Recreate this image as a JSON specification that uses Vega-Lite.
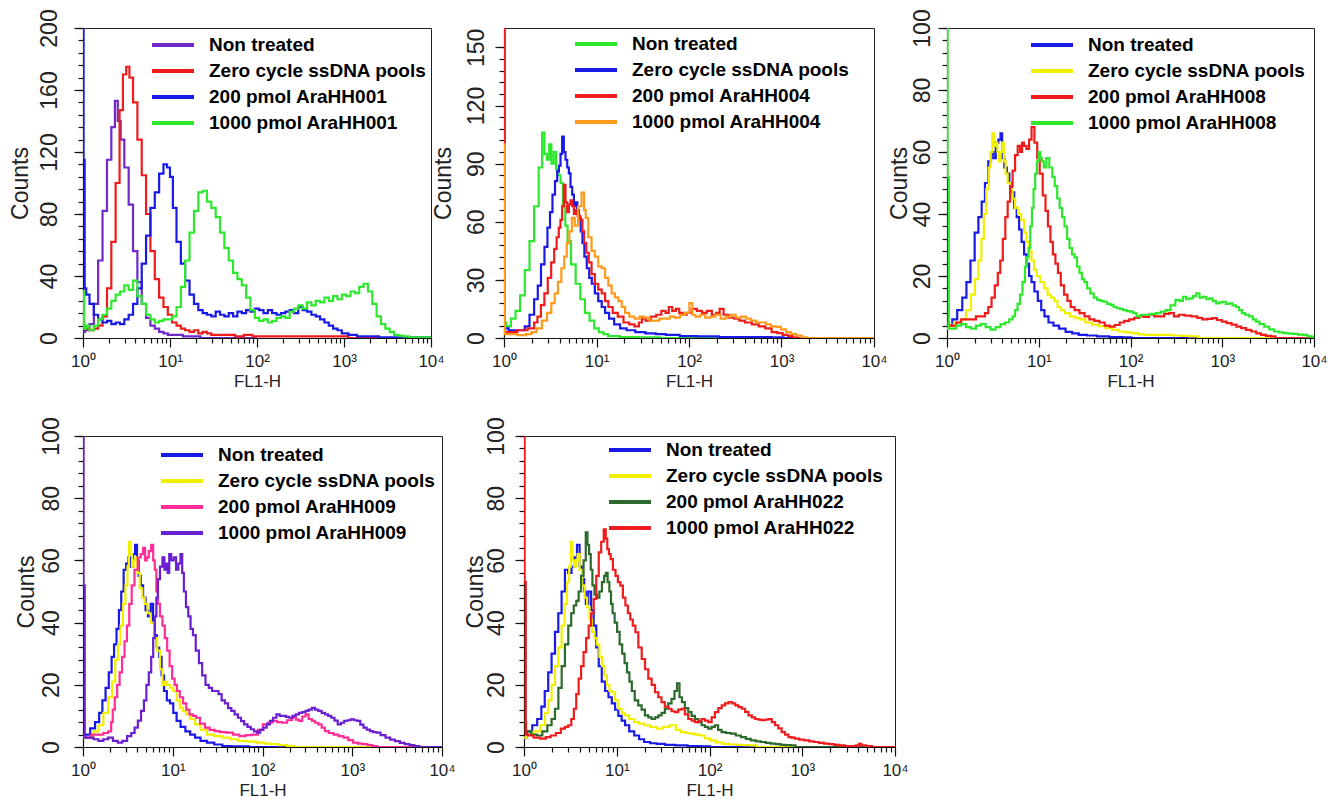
{
"$schema":"https://vega.github.io/schema/vega-lite/v6.json",
"autosize":{"type":"pad"},
"padding":{"left":8,"top":8,"right":5,"bottom":5},
"background":"white",
"config":{
 "view":{"stroke":"#222","strokeWidth":1},
 "font":"Liberation Sans",
 "axis":{"grid":false,"domainColor":"#111","tickColor":"#111","labelFont":"Liberation Sans","titleFont":"Liberation Sans","labelColor":"#222","titleColor":"#222","titleFontWeight":"normal","domainWidth":1.2,"tickWidth":1.2},
 "legend":{"title":null,"symbolType":"stroke","symbolSize":1764,"symbolStrokeWidth":4,"labelFontSize":19,"labelFontWeight":"bold","labelFont":"Liberation Sans","labelColor":"#000","labelOffset":13,"labelLimit":400,"clipHeight":26,"rowPadding":0,"padding":0}
},
"datasets":{
"p1":[
{"s":1,"x":1,"y":4},{"s":1,"x":1.12,"y":5},{"s":1,"x":1.26,"y":9},{"s":1,"x":1.41,"y":22},{"s":1,"x":1.58,"y":50},{"s":1,"x":1.78,"y":82},{"s":1,"x":2,"y":115},{"s":1,"x":2.24,"y":136},{"s":1,"x":2.42,"y":153},{"s":1,"x":2.6,"y":140},{"s":1,"x":2.82,"y":128},{"s":1,"x":3.16,"y":110},{"s":1,"x":3.55,"y":86},{"s":1,"x":3.98,"y":56},{"s":1,"x":4.47,"y":36},{"s":1,"x":5.01,"y":22},{"s":1,"x":5.62,"y":13},{"s":1,"x":6.31,"y":8},{"s":1,"x":7.08,"y":6},{"s":1,"x":7.94,"y":4},{"s":1,"x":8.91,"y":3},{"s":1,"x":10,"y":2},{"s":1,"x":12.6,"y":2},{"s":1,"x":15.8,"y":1},{"s":1,"x":20,"y":1},{"s":1,"x":25,"y":0},{"s":1,"x":100,"y":0},
{"s":2,"x":1,"y":8},{"s":2,"x":1.12,"y":6},{"s":2,"x":1.26,"y":5},{"s":2,"x":1.41,"y":6},{"s":2,"x":1.58,"y":8},{"s":2,"x":1.78,"y":14},{"s":2,"x":2,"y":32},{"s":2,"x":2.24,"y":62},{"s":2,"x":2.51,"y":100},{"s":2,"x":2.76,"y":147},{"s":2,"x":3,"y":170},{"s":2,"x":3.29,"y":175},{"s":2,"x":3.55,"y":168},{"s":2,"x":3.98,"y":152},{"s":2,"x":4.47,"y":128},{"s":2,"x":5.01,"y":105},{"s":2,"x":5.62,"y":80},{"s":2,"x":6.31,"y":56},{"s":2,"x":7.08,"y":38},{"s":2,"x":7.94,"y":26},{"s":2,"x":8.91,"y":20},{"s":2,"x":10,"y":15},{"s":2,"x":11.2,"y":10},{"s":2,"x":12.6,"y":8},{"s":2,"x":14.1,"y":6},{"s":2,"x":15.8,"y":5},{"s":2,"x":17.8,"y":4},{"s":2,"x":20,"y":5},{"s":2,"x":22.4,"y":3},{"s":2,"x":25.1,"y":4},{"s":2,"x":28.2,"y":3},{"s":2,"x":31.6,"y":2},{"s":2,"x":39.8,"y":2},{"s":2,"x":50,"y":2},{"s":2,"x":63,"y":1},{"s":2,"x":79,"y":2},{"s":2,"x":100,"y":1},{"s":2,"x":200,"y":1},{"s":2,"x":400,"y":1},{"s":2,"x":700,"y":1},{"s":2,"x":1000,"y":1},{"s":2,"x":1260,"y":0},{"s":2,"x":10000,"y":0},
{"s":3,"x":1,"y":250},{"s":3,"x":1.03,"y":115},{"s":3,"x":1.06,"y":32},{"s":3,"x":1.12,"y":28},{"s":3,"x":1.26,"y":22},{"s":3,"x":1.41,"y":15},{"s":3,"x":1.58,"y":12},{"s":3,"x":1.78,"y":10},{"s":3,"x":2,"y":11},{"s":3,"x":2.24,"y":9},{"s":3,"x":2.51,"y":10},{"s":3,"x":2.82,"y":9},{"s":3,"x":3.16,"y":12},{"s":3,"x":3.55,"y":15},{"s":3,"x":3.98,"y":22},{"s":3,"x":4.47,"y":32},{"s":3,"x":5.01,"y":48},{"s":3,"x":5.62,"y":66},{"s":3,"x":6.31,"y":84},{"s":3,"x":7.08,"y":94},{"s":3,"x":7.94,"y":106},{"s":3,"x":8.91,"y":112},{"s":3,"x":9.6,"y":110},{"s":3,"x":10.4,"y":104},{"s":3,"x":11.2,"y":84},{"s":3,"x":12.6,"y":62},{"s":3,"x":14.1,"y":48},{"s":3,"x":15.8,"y":37},{"s":3,"x":17.8,"y":28},{"s":3,"x":20,"y":22},{"s":3,"x":22.4,"y":18},{"s":3,"x":25.1,"y":16},{"s":3,"x":28.2,"y":15},{"s":3,"x":31.6,"y":14},{"s":3,"x":35.5,"y":17},{"s":3,"x":39.8,"y":15},{"s":3,"x":44.7,"y":14},{"s":3,"x":50.1,"y":16},{"s":3,"x":56.2,"y":14},{"s":3,"x":63.1,"y":17},{"s":3,"x":70.8,"y":16},{"s":3,"x":79.4,"y":18},{"s":3,"x":89.1,"y":17},{"s":3,"x":100,"y":19},{"s":3,"x":112,"y":18},{"s":3,"x":126,"y":16},{"s":3,"x":141,"y":18},{"s":3,"x":158,"y":16},{"s":3,"x":178,"y":15},{"s":3,"x":200,"y":16},{"s":3,"x":224,"y":17},{"s":3,"x":251,"y":18},{"s":3,"x":282,"y":16},{"s":3,"x":316,"y":20},{"s":3,"x":355,"y":18},{"s":3,"x":398,"y":17},{"s":3,"x":447,"y":15},{"s":3,"x":501,"y":14},{"s":3,"x":562,"y":12},{"s":3,"x":631,"y":10},{"s":3,"x":708,"y":8},{"s":3,"x":794,"y":6},{"s":3,"x":891,"y":5},{"s":3,"x":1000,"y":3},{"s":3,"x":1260,"y":2},{"s":3,"x":1585,"y":1},{"s":3,"x":2000,"y":1},{"s":3,"x":3162,"y":0.5},{"s":3,"x":10000,"y":0.5},
{"s":4,"x":1,"y":30},{"s":4,"x":1.06,"y":6},{"s":4,"x":1.12,"y":8},{"s":4,"x":1.26,"y":5},{"s":4,"x":1.41,"y":8},{"s":4,"x":1.58,"y":12},{"s":4,"x":1.78,"y":15},{"s":4,"x":2,"y":19},{"s":4,"x":2.24,"y":24},{"s":4,"x":2.51,"y":28},{"s":4,"x":2.82,"y":30},{"s":4,"x":3.16,"y":34},{"s":4,"x":3.55,"y":31},{"s":4,"x":3.98,"y":37},{"s":4,"x":4.47,"y":27},{"s":4,"x":5.01,"y":22},{"s":4,"x":5.62,"y":15},{"s":4,"x":6.31,"y":12},{"s":4,"x":7.08,"y":10},{"s":4,"x":7.94,"y":11},{"s":4,"x":8.91,"y":12},{"s":4,"x":10,"y":12},{"s":4,"x":11.2,"y":14},{"s":4,"x":12.6,"y":20},{"s":4,"x":14.1,"y":33},{"s":4,"x":15.8,"y":50},{"s":4,"x":17.8,"y":68},{"s":4,"x":20,"y":82},{"s":4,"x":22.4,"y":94},{"s":4,"x":25.1,"y":95},{"s":4,"x":28.2,"y":88},{"s":4,"x":31.6,"y":84},{"s":4,"x":35.5,"y":78},{"s":4,"x":39.8,"y":68},{"s":4,"x":44.7,"y":58},{"s":4,"x":50.1,"y":50},{"s":4,"x":56.2,"y":42},{"s":4,"x":63.1,"y":38},{"s":4,"x":70.8,"y":34},{"s":4,"x":79.4,"y":26},{"s":4,"x":89.1,"y":18},{"s":4,"x":100,"y":13},{"s":4,"x":112,"y":11},{"s":4,"x":126,"y":12},{"s":4,"x":141,"y":10},{"s":4,"x":158,"y":11},{"s":4,"x":178,"y":13},{"s":4,"x":200,"y":14},{"s":4,"x":224,"y":13},{"s":4,"x":251,"y":17},{"s":4,"x":282,"y":19},{"s":4,"x":316,"y":21},{"s":4,"x":355,"y":19},{"s":4,"x":398,"y":23},{"s":4,"x":447,"y":21},{"s":4,"x":501,"y":24},{"s":4,"x":562,"y":23},{"s":4,"x":631,"y":26},{"s":4,"x":708,"y":24},{"s":4,"x":794,"y":27},{"s":4,"x":891,"y":25},{"s":4,"x":1000,"y":28},{"s":4,"x":1122,"y":27},{"s":4,"x":1259,"y":30},{"s":4,"x":1413,"y":29},{"s":4,"x":1585,"y":33},{"s":4,"x":1778,"y":35},{"s":4,"x":2000,"y":30},{"s":4,"x":2239,"y":22},{"s":4,"x":2512,"y":14},{"s":4,"x":2818,"y":9},{"s":4,"x":3162,"y":6},{"s":4,"x":3548,"y":4},{"s":4,"x":3981,"y":2},{"s":4,"x":4467,"y":1.5},{"s":4,"x":5012,"y":1},{"s":4,"x":6310,"y":0.5},{"s":4,"x":10000,"y":0.5}
],
"p2":[
{"s":1,"x":1,"y":8},{"s":1,"x":1.12,"y":6},{"s":1,"x":1.26,"y":10},{"s":1,"x":1.41,"y":14},{"s":1,"x":1.58,"y":22},{"s":1,"x":1.78,"y":35},{"s":1,"x":2,"y":50},{"s":1,"x":2.24,"y":68},{"s":1,"x":2.51,"y":88},{"s":1,"x":2.66,"y":106},{"s":1,"x":2.82,"y":95},{"s":1,"x":3,"y":92},{"s":1,"x":3.16,"y":100},{"s":1,"x":3.35,"y":90},{"s":1,"x":3.55,"y":96},{"s":1,"x":3.76,"y":87},{"s":1,"x":3.98,"y":84},{"s":1,"x":4.2,"y":80},{"s":1,"x":4.47,"y":68},{"s":1,"x":4.73,"y":58},{"s":1,"x":5.01,"y":50},{"s":1,"x":5.62,"y":38},{"s":1,"x":6.31,"y":28},{"s":1,"x":7.08,"y":20},{"s":1,"x":7.94,"y":13},{"s":1,"x":8.91,"y":9},{"s":1,"x":10,"y":5},{"s":1,"x":11.2,"y":3},{"s":1,"x":12.6,"y":2},{"s":1,"x":14.1,"y":1},{"s":1,"x":15.8,"y":1},{"s":1,"x":20,"y":0.5},{"s":1,"x":40,"y":0.3},{"s":1,"x":60,"y":0},{"s":1,"x":10000,"y":0},
{"s":2,"x":1,"y":5},{"s":2,"x":1.26,"y":4},{"s":2,"x":1.58,"y":4},{"s":2,"x":1.78,"y":6},{"s":2,"x":2,"y":12},{"s":2,"x":2.24,"y":20},{"s":2,"x":2.4,"y":27},{"s":2,"x":2.63,"y":38},{"s":2,"x":2.85,"y":47},{"s":2,"x":3.05,"y":57},{"s":2,"x":3.24,"y":65},{"s":2,"x":3.45,"y":74},{"s":2,"x":3.67,"y":81},{"s":2,"x":3.85,"y":86},{"s":2,"x":4,"y":89},{"s":2,"x":4.17,"y":95},{"s":2,"x":4.34,"y":104},{"s":2,"x":4.53,"y":96},{"s":2,"x":4.72,"y":92},{"s":2,"x":4.93,"y":88},{"s":2,"x":5.13,"y":85},{"s":2,"x":5.35,"y":78},{"s":2,"x":5.58,"y":74},{"s":2,"x":5.82,"y":68},{"s":2,"x":6.07,"y":70},{"s":2,"x":6.33,"y":66},{"s":2,"x":6.6,"y":62},{"s":2,"x":6.9,"y":55},{"s":2,"x":7.2,"y":49},{"s":2,"x":7.6,"y":42},{"s":2,"x":8.1,"y":36},{"s":2,"x":8.6,"y":31},{"s":2,"x":9.2,"y":28},{"s":2,"x":10,"y":23},{"s":2,"x":10.9,"y":19},{"s":2,"x":11.9,"y":16},{"s":2,"x":12.9,"y":13},{"s":2,"x":14.5,"y":10},{"s":2,"x":16.6,"y":7},{"s":2,"x":19.5,"y":5},{"s":2,"x":23,"y":4},{"s":2,"x":30,"y":3},{"s":2,"x":38,"y":2.4},{"s":2,"x":50,"y":2},{"s":2,"x":63,"y":1.6},{"s":2,"x":100,"y":1},{"s":2,"x":147,"y":0.8},{"s":2,"x":300,"y":0.5},{"s":2,"x":600,"y":0.5},{"s":2,"x":1000,"y":0.3},{"s":2,"x":1100,"y":0},{"s":2,"x":10000,"y":0},
{"s":3,"x":1,"y":250},{"s":3,"x":1.04,"y":3},{"s":3,"x":1.23,"y":3},{"s":3,"x":1.58,"y":4},{"s":3,"x":2.04,"y":5},{"s":3,"x":2.2,"y":8},{"s":3,"x":2.4,"y":11},{"s":3,"x":2.62,"y":17},{"s":3,"x":2.85,"y":23},{"s":3,"x":3.1,"y":31},{"s":3,"x":3.38,"y":39},{"s":3,"x":3.6,"y":46},{"s":3,"x":3.82,"y":52},{"s":3,"x":4,"y":57},{"s":3,"x":4.16,"y":61},{"s":3,"x":4.35,"y":68},{"s":3,"x":4.53,"y":79},{"s":3,"x":4.72,"y":70},{"s":3,"x":4.93,"y":65},{"s":3,"x":5.13,"y":69},{"s":3,"x":5.35,"y":71},{"s":3,"x":5.58,"y":68},{"s":3,"x":5.82,"y":64},{"s":3,"x":6.07,"y":66},{"s":3,"x":6.45,"y":63},{"s":3,"x":6.88,"y":61},{"s":3,"x":7.2,"y":55},{"s":3,"x":7.5,"y":49},{"s":3,"x":8,"y":44},{"s":3,"x":8.5,"y":39},{"s":3,"x":9.2,"y":33},{"s":3,"x":10,"y":28},{"s":3,"x":10.9,"y":25},{"s":3,"x":11.9,"y":23},{"s":3,"x":12.9,"y":19},{"s":3,"x":14,"y":16},{"s":3,"x":16,"y":13},{"s":3,"x":18,"y":11},{"s":3,"x":21.3,"y":8},{"s":3,"x":24,"y":7},{"s":3,"x":27.5,"y":6},{"s":3,"x":30,"y":8},{"s":3,"x":32,"y":10},{"s":3,"x":36,"y":9},{"s":3,"x":41.5,"y":11},{"s":3,"x":47,"y":12},{"s":3,"x":53.6,"y":14},{"s":3,"x":58,"y":13},{"s":3,"x":63,"y":16},{"s":3,"x":69,"y":14},{"s":3,"x":75,"y":15},{"s":3,"x":82,"y":13},{"s":3,"x":89,"y":12},{"s":3,"x":100,"y":13},{"s":3,"x":114,"y":15},{"s":3,"x":130,"y":14},{"s":3,"x":147,"y":13},{"s":3,"x":165,"y":14},{"s":3,"x":189,"y":12},{"s":3,"x":205,"y":13},{"s":3,"x":224,"y":15},{"s":3,"x":250,"y":12},{"s":3,"x":288,"y":10.5},{"s":3,"x":330,"y":10},{"s":3,"x":370,"y":9},{"s":3,"x":440,"y":8},{"s":3,"x":518,"y":7},{"s":3,"x":620,"y":6},{"s":3,"x":720,"y":5},{"s":3,"x":850,"y":3},{"s":3,"x":960,"y":2.5},{"s":3,"x":1100,"y":1.6},{"s":3,"x":1250,"y":1},{"s":3,"x":1400,"y":0.3},{"s":3,"x":1600,"y":0},{"s":3,"x":10000,"y":0},
{"s":4,"x":1,"y":100},{"s":4,"x":1.04,"y":2},{"s":4,"x":1.23,"y":2},{"s":4,"x":1.58,"y":1.5},{"s":4,"x":1.87,"y":2},{"s":4,"x":2.1,"y":3},{"s":4,"x":2.4,"y":5},{"s":4,"x":2.75,"y":9},{"s":4,"x":3.1,"y":13},{"s":4,"x":3.4,"y":18},{"s":4,"x":3.67,"y":23},{"s":4,"x":4,"y":29},{"s":4,"x":4.34,"y":36},{"s":4,"x":4.62,"y":42},{"s":4,"x":4.93,"y":49},{"s":4,"x":5.25,"y":55},{"s":4,"x":5.58,"y":62},{"s":4,"x":6.07,"y":58},{"s":4,"x":6.6,"y":68},{"s":4,"x":7.2,"y":75},{"s":4,"x":7.5,"y":66},{"s":4,"x":7.8,"y":62},{"s":4,"x":8.5,"y":52},{"s":4,"x":9.2,"y":45},{"s":4,"x":10,"y":42},{"s":4,"x":10.9,"y":37},{"s":4,"x":11.9,"y":36},{"s":4,"x":12.9,"y":31},{"s":4,"x":14,"y":27},{"s":4,"x":15.2,"y":23},{"s":4,"x":16.5,"y":21},{"s":4,"x":18,"y":19},{"s":4,"x":19.5,"y":16},{"s":4,"x":21.3,"y":13},{"s":4,"x":24,"y":11},{"s":4,"x":27.5,"y":10},{"s":4,"x":31,"y":11},{"s":4,"x":35,"y":10.5},{"s":4,"x":40,"y":9},{"s":4,"x":45,"y":9},{"s":4,"x":51,"y":10},{"s":4,"x":58,"y":10},{"s":4,"x":66,"y":11},{"s":4,"x":75,"y":10.5},{"s":4,"x":85,"y":12},{"s":4,"x":97,"y":13},{"s":4,"x":105,"y":18},{"s":4,"x":112,"y":12},{"s":4,"x":124,"y":11},{"s":4,"x":140,"y":12},{"s":4,"x":160,"y":10.5},{"s":4,"x":180,"y":11},{"s":4,"x":206,"y":12},{"s":4,"x":235,"y":10},{"s":4,"x":265,"y":11},{"s":4,"x":300,"y":12},{"s":4,"x":341,"y":10.5},{"s":4,"x":390,"y":11},{"s":4,"x":438,"y":10},{"s":4,"x":500,"y":9},{"s":4,"x":563,"y":8},{"s":4,"x":640,"y":8},{"s":4,"x":720,"y":7},{"s":4,"x":820,"y":6},{"s":4,"x":930,"y":5.7},{"s":4,"x":1050,"y":4.5},{"s":4,"x":1200,"y":3},{"s":4,"x":1350,"y":2},{"s":4,"x":1540,"y":1.3},{"s":4,"x":1800,"y":0.3},{"s":4,"x":2000,"y":0},{"s":4,"x":10000,"y":0}
],
"p3":[
{"s":1,"x":1,"y":4},{"s":1,"x":1.09,"y":4},{"s":1,"x":1.2,"y":6},{"s":1,"x":1.39,"y":9},{"s":1,"x":1.55,"y":13},{"s":1,"x":1.71,"y":18},{"s":1,"x":1.9,"y":25},{"s":1,"x":2.11,"y":34},{"s":1,"x":2.29,"y":39},{"s":1,"x":2.49,"y":44},{"s":1,"x":2.7,"y":50},{"s":1,"x":2.94,"y":57},{"s":1,"x":3.1,"y":60},{"s":1,"x":3.31,"y":58},{"s":1,"x":3.5,"y":63},{"s":1,"x":3.77,"y":64},{"s":1,"x":3.9,"y":66},{"s":1,"x":4.08,"y":58},{"s":1,"x":4.35,"y":55},{"s":1,"x":4.63,"y":53},{"s":1,"x":4.93,"y":50},{"s":1,"x":5.24,"y":47},{"s":1,"x":5.58,"y":42},{"s":1,"x":5.93,"y":39},{"s":1,"x":6.3,"y":35},{"s":1,"x":6.7,"y":31},{"s":1,"x":7.15,"y":27},{"s":1,"x":7.6,"y":24},{"s":1,"x":8.1,"y":20},{"s":1,"x":8.6,"y":18},{"s":1,"x":9.35,"y":15},{"s":1,"x":10.2,"y":12},{"s":1,"x":11.1,"y":9},{"s":1,"x":12,"y":7},{"s":1,"x":13.6,"y":5},{"s":1,"x":15.4,"y":4},{"s":1,"x":18,"y":3},{"s":1,"x":21.4,"y":2},{"s":1,"x":25,"y":1.5},{"s":1,"x":29.7,"y":1},{"s":1,"x":38,"y":0.8},{"s":1,"x":49,"y":0.5},{"s":1,"x":70,"y":0.3},{"s":1,"x":95,"y":0.2},{"s":1,"x":110,"y":0},{"s":1,"x":10000,"y":0},
{"s":2,"x":1,"y":3},{"s":2,"x":1.09,"y":4},{"s":2,"x":1.3,"y":5},{"s":2,"x":1.51,"y":6},{"s":2,"x":1.72,"y":9},{"s":2,"x":1.94,"y":14},{"s":2,"x":2.1,"y":19},{"s":2,"x":2.29,"y":25},{"s":2,"x":2.45,"y":32},{"s":2,"x":2.59,"y":40},{"s":2,"x":2.76,"y":48},{"s":2,"x":2.94,"y":55},{"s":2,"x":3.06,"y":60},{"s":2,"x":3.18,"y":66},{"s":2,"x":3.31,"y":62},{"s":2,"x":3.46,"y":63},{"s":2,"x":3.62,"y":60},{"s":2,"x":3.77,"y":57},{"s":2,"x":3.92,"y":60},{"s":2,"x":4.08,"y":63},{"s":2,"x":4.25,"y":57},{"s":2,"x":4.45,"y":53},{"s":2,"x":4.72,"y":50},{"s":2,"x":5.03,"y":48},{"s":2,"x":5.35,"y":45},{"s":2,"x":5.7,"y":42},{"s":2,"x":6.2,"y":40},{"s":2,"x":6.7,"y":38},{"s":2,"x":7.15,"y":34},{"s":2,"x":7.6,"y":31},{"s":2,"x":8.1,"y":28},{"s":2,"x":8.6,"y":25},{"s":2,"x":9.2,"y":22},{"s":2,"x":9.8,"y":20},{"s":2,"x":11,"y":18},{"s":2,"x":12,"y":16},{"s":2,"x":13,"y":14},{"s":2,"x":14.2,"y":13},{"s":2,"x":15.4,"y":12},{"s":2,"x":16.7,"y":10},{"s":2,"x":18.1,"y":9},{"s":2,"x":20.5,"y":8},{"s":2,"x":23.2,"y":7},{"s":2,"x":26,"y":6.5},{"s":2,"x":29.7,"y":6},{"s":2,"x":35,"y":5},{"s":2,"x":41.6,"y":4.3},{"s":2,"x":49,"y":3.8},{"s":2,"x":58,"y":3.2},{"s":2,"x":68,"y":2.6},{"s":2,"x":80.6,"y":2.1},{"s":2,"x":95,"y":1.8},{"s":2,"x":112,"y":1.6},{"s":2,"x":132,"y":1.2},{"s":2,"x":156,"y":1},{"s":2,"x":200,"y":1},{"s":2,"x":256,"y":1},{"s":2,"x":320,"y":0.8},{"s":2,"x":388,"y":0.7},{"s":2,"x":500,"y":0.5},{"s":2,"x":600,"y":0},{"s":2,"x":10000,"y":0},
{"s":3,"x":1,"y":5},{"s":3,"x":1.1,"y":4},{"s":3,"x":1.18,"y":4},{"s":3,"x":1.35,"y":5},{"s":3,"x":1.51,"y":6},{"s":3,"x":1.72,"y":6},{"s":3,"x":1.94,"y":6},{"s":3,"x":2.2,"y":7},{"s":3,"x":2.49,"y":7},{"s":3,"x":2.7,"y":8},{"s":3,"x":2.94,"y":10},{"s":3,"x":3.18,"y":13},{"s":3,"x":3.46,"y":17},{"s":3,"x":3.7,"y":21},{"s":3,"x":3.92,"y":25},{"s":3,"x":4.2,"y":32},{"s":3,"x":4.45,"y":39},{"s":3,"x":4.72,"y":44},{"s":3,"x":5.03,"y":49},{"s":3,"x":5.35,"y":54},{"s":3,"x":5.7,"y":59},{"s":3,"x":6.1,"y":62},{"s":3,"x":6.45,"y":60},{"s":3,"x":6.7,"y":63},{"s":3,"x":7.1,"y":62},{"s":3,"x":7.6,"y":61},{"s":3,"x":8.1,"y":64},{"s":3,"x":8.6,"y":68},{"s":3,"x":9.35,"y":63},{"s":3,"x":9.9,"y":58},{"s":3,"x":10.6,"y":53},{"s":3,"x":11.5,"y":46},{"s":3,"x":12.2,"y":41},{"s":3,"x":13,"y":36},{"s":3,"x":13.8,"y":31},{"s":3,"x":14.7,"y":27},{"s":3,"x":15.7,"y":24},{"s":3,"x":16.7,"y":21},{"s":3,"x":18.1,"y":17},{"s":3,"x":19.7,"y":14},{"s":3,"x":21.4,"y":12},{"s":3,"x":23.2,"y":10},{"s":3,"x":26,"y":9},{"s":3,"x":29.7,"y":8},{"s":3,"x":33.5,"y":7},{"s":3,"x":38,"y":6},{"s":3,"x":43,"y":5.5},{"s":3,"x":49,"y":5},{"s":3,"x":56,"y":4},{"s":3,"x":63,"y":3.7},{"s":3,"x":72,"y":4.2},{"s":3,"x":80.6,"y":5},{"s":3,"x":91,"y":5.5},{"s":3,"x":103,"y":6},{"s":3,"x":117,"y":6.5},{"s":3,"x":132,"y":7},{"s":3,"x":150,"y":6.8},{"s":3,"x":170,"y":7.5},{"s":3,"x":193,"y":7},{"s":3,"x":218,"y":7},{"s":3,"x":248,"y":7.8},{"s":3,"x":279,"y":8},{"s":3,"x":316,"y":7},{"s":3,"x":358,"y":7.5},{"s":3,"x":420,"y":7.2},{"s":3,"x":500,"y":7},{"s":3,"x":570,"y":6.5},{"s":3,"x":640,"y":6},{"s":3,"x":730,"y":6.2},{"s":3,"x":820,"y":6.4},{"s":3,"x":930,"y":5.8},{"s":3,"x":1050,"y":5.3},{"s":3,"x":1190,"y":4.8},{"s":3,"x":1340,"y":4.3},{"s":3,"x":1520,"y":3.7},{"s":3,"x":1700,"y":3.2},{"s":3,"x":1950,"y":2.6},{"s":3,"x":2200,"y":2.1},{"s":3,"x":2500,"y":1.5},{"s":3,"x":2800,"y":1},{"s":3,"x":3200,"y":0.7},{"s":3,"x":3600,"y":0.5},{"s":3,"x":4000,"y":0},{"s":3,"x":10000,"y":0},
{"s":4,"x":1,"y":250},{"s":4,"x":1.03,"y":52},{"s":4,"x":1.06,"y":3},{"s":4,"x":1.18,"y":3},{"s":4,"x":1.35,"y":4},{"s":4,"x":1.51,"y":4.5},{"s":4,"x":1.72,"y":3.5},{"s":4,"x":1.94,"y":3},{"s":4,"x":2.2,"y":4},{"s":4,"x":2.49,"y":4.5},{"s":4,"x":2.8,"y":3.5},{"s":4,"x":3.18,"y":2.7},{"s":4,"x":3.6,"y":3.5},{"s":4,"x":4.08,"y":4.5},{"s":4,"x":4.5,"y":5},{"s":4,"x":5.03,"y":6},{"s":4,"x":5.35,"y":7},{"s":4,"x":5.7,"y":9},{"s":4,"x":6.05,"y":11},{"s":4,"x":6.45,"y":14},{"s":4,"x":6.85,"y":18},{"s":4,"x":7.3,"y":23},{"s":4,"x":7.6,"y":26},{"s":4,"x":7.9,"y":29},{"s":4,"x":8.25,"y":36},{"s":4,"x":8.6,"y":42},{"s":4,"x":8.95,"y":48},{"s":4,"x":9.35,"y":53},{"s":4,"x":9.75,"y":57},{"s":4,"x":10.2,"y":60},{"s":4,"x":10.6,"y":58},{"s":4,"x":11,"y":57},{"s":4,"x":11.7,"y":55},{"s":4,"x":12.5,"y":58},{"s":4,"x":13.6,"y":55},{"s":4,"x":14.5,"y":52},{"s":4,"x":15.4,"y":49},{"s":4,"x":16.4,"y":45},{"s":4,"x":17.4,"y":42},{"s":4,"x":18.5,"y":39},{"s":4,"x":19.7,"y":36},{"s":4,"x":21,"y":32},{"s":4,"x":22.3,"y":29},{"s":4,"x":23.8,"y":27},{"s":4,"x":25.3,"y":26},{"s":4,"x":27,"y":23},{"s":4,"x":28.6,"y":21},{"s":4,"x":30.5,"y":19},{"s":4,"x":32.3,"y":18},{"s":4,"x":35,"y":16},{"s":4,"x":38,"y":14.4},{"s":4,"x":41.5,"y":13},{"s":4,"x":45,"y":12.3},{"s":4,"x":49,"y":12},{"s":4,"x":53,"y":11.7},{"s":4,"x":58,"y":11},{"s":4,"x":63,"y":10.7},{"s":4,"x":68,"y":10},{"s":4,"x":74,"y":9.6},{"s":4,"x":80,"y":9.3},{"s":4,"x":87,"y":9},{"s":4,"x":95,"y":8.7},{"s":4,"x":103,"y":8.5},{"s":4,"x":112,"y":8},{"s":4,"x":121,"y":7},{"s":4,"x":138,"y":7.5},{"s":4,"x":156,"y":7.5},{"s":4,"x":178,"y":7.8},{"s":4,"x":200,"y":8},{"s":4,"x":228,"y":8.5},{"s":4,"x":256,"y":9},{"s":4,"x":290,"y":10.5},{"s":4,"x":328,"y":12.3},{"s":4,"x":358,"y":12},{"s":4,"x":388,"y":13.3},{"s":4,"x":420,"y":12.5},{"s":4,"x":460,"y":12.8},{"s":4,"x":500,"y":13.5},{"s":4,"x":540,"y":14.4},{"s":4,"x":590,"y":13},{"s":4,"x":640,"y":13.3},{"s":4,"x":700,"y":12.5},{"s":4,"x":750,"y":12.8},{"s":4,"x":820,"y":12},{"s":4,"x":890,"y":11.2},{"s":4,"x":970,"y":11.5},{"s":4,"x":1050,"y":11.7},{"s":4,"x":1140,"y":11},{"s":4,"x":1240,"y":11.2},{"s":4,"x":1350,"y":10.5},{"s":4,"x":1470,"y":10},{"s":4,"x":1580,"y":9},{"s":4,"x":1700,"y":8},{"s":4,"x":1870,"y":7.5},{"s":4,"x":2050,"y":7},{"s":4,"x":2250,"y":6},{"s":4,"x":2400,"y":5.3},{"s":4,"x":2700,"y":4.5},{"s":4,"x":3060,"y":3.7},{"s":4,"x":3450,"y":2.8},{"s":4,"x":3900,"y":2.1},{"s":4,"x":4400,"y":1.8},{"s":4,"x":4950,"y":1.6},{"s":4,"x":5600,"y":1.4},{"s":4,"x":6300,"y":1.3},{"s":4,"x":7100,"y":1.1},{"s":4,"x":8000,"y":1},{"s":4,"x":9000,"y":0.5},{"s":4,"x":10000,"y":0.3}
],
"p4":[
{"s":1,"x":1,"y":3},{"s":1,"x":1.13,"y":4},{"s":1,"x":1.28,"y":6},{"s":1,"x":1.45,"y":8},{"s":1,"x":1.58,"y":11},{"s":1,"x":1.71,"y":15},{"s":1,"x":1.86,"y":19},{"s":1,"x":2.02,"y":24},{"s":1,"x":2.15,"y":29},{"s":1,"x":2.29,"y":33},{"s":1,"x":2.44,"y":38},{"s":1,"x":2.59,"y":44},{"s":1,"x":2.75,"y":50},{"s":1,"x":2.93,"y":57},{"s":1,"x":3.12,"y":59},{"s":1,"x":3.31,"y":61},{"s":1,"x":3.5,"y":58},{"s":1,"x":3.7,"y":62},{"s":1,"x":3.92,"y":65},{"s":1,"x":4.08,"y":60},{"s":1,"x":4.26,"y":55},{"s":1,"x":4.53,"y":52},{"s":1,"x":4.82,"y":48},{"s":1,"x":5.14,"y":44},{"s":1,"x":5.46,"y":42},{"s":1,"x":5.93,"y":46},{"s":1,"x":6.15,"y":40},{"s":1,"x":6.44,"y":36},{"s":1,"x":6.85,"y":32},{"s":1,"x":7.28,"y":29},{"s":1,"x":7.75,"y":23},{"s":1,"x":8.25,"y":18},{"s":1,"x":8.95,"y":15},{"s":1,"x":9.7,"y":14},{"s":1,"x":10.6,"y":11},{"s":1,"x":11.5,"y":8.4},{"s":1,"x":13,"y":6.5},{"s":1,"x":14.7,"y":5},{"s":1,"x":16.6,"y":4},{"s":1,"x":18.9,"y":3},{"s":1,"x":22,"y":2},{"s":1,"x":26.3,"y":1.4},{"s":1,"x":32,"y":0.8},{"s":1,"x":39.8,"y":0.3},{"s":1,"x":50,"y":0.2},{"s":1,"x":100,"y":0},{"s":1,"x":10000,"y":0},
{"s":2,"x":1,"y":3},{"s":2,"x":1.23,"y":3},{"s":2,"x":1.4,"y":5},{"s":2,"x":1.58,"y":7},{"s":2,"x":1.8,"y":11},{"s":2,"x":2.02,"y":16},{"s":2,"x":2.2,"y":21},{"s":2,"x":2.38,"y":28},{"s":2,"x":2.54,"y":33},{"s":2,"x":2.7,"y":39},{"s":2,"x":2.88,"y":46},{"s":2,"x":3.06,"y":52},{"s":2,"x":3.2,"y":58},{"s":2,"x":3.31,"y":66},{"s":2,"x":3.45,"y":62},{"s":2,"x":3.6,"y":58},{"s":2,"x":3.75,"y":60},{"s":2,"x":3.92,"y":61},{"s":2,"x":4.15,"y":56},{"s":2,"x":4.43,"y":51},{"s":2,"x":4.72,"y":48},{"s":2,"x":5.02,"y":46},{"s":2,"x":5.45,"y":43},{"s":2,"x":5.93,"y":40},{"s":2,"x":6.45,"y":35},{"s":2,"x":6.98,"y":31},{"s":2,"x":7.45,"y":25},{"s":2,"x":7.91,"y":20},{"s":2,"x":8.4,"y":21},{"s":2,"x":8.95,"y":20},{"s":2,"x":9.7,"y":19},{"s":2,"x":10.6,"y":18},{"s":2,"x":11.5,"y":15},{"s":2,"x":12.5,"y":12.6},{"s":2,"x":13.6,"y":11.5},{"s":2,"x":14.7,"y":10.5},{"s":2,"x":16.6,"y":9},{"s":2,"x":18.9,"y":7.3},{"s":2,"x":22,"y":5.5},{"s":2,"x":26.3,"y":4},{"s":2,"x":32,"y":3.5},{"s":2,"x":39.8,"y":3},{"s":2,"x":48,"y":2.5},{"s":2,"x":60,"y":2},{"s":2,"x":76,"y":1.7},{"s":2,"x":98,"y":1.4},{"s":2,"x":116,"y":1.1},{"s":2,"x":137,"y":0.9},{"s":2,"x":170,"y":0.6},{"s":2,"x":208,"y":0.3},{"s":2,"x":250,"y":0},{"s":2,"x":10000,"y":0},
{"s":3,"x":1,"y":3},{"s":3,"x":1.13,"y":3},{"s":3,"x":1.35,"y":4},{"s":3,"x":1.58,"y":4},{"s":3,"x":1.8,"y":4.5},{"s":3,"x":2.02,"y":5},{"s":3,"x":2.1,"y":8},{"s":3,"x":2.19,"y":12},{"s":3,"x":2.33,"y":16},{"s":3,"x":2.48,"y":20},{"s":3,"x":2.64,"y":24},{"s":3,"x":2.81,"y":29},{"s":3,"x":3,"y":34},{"s":3,"x":3.18,"y":39},{"s":3,"x":3.38,"y":46},{"s":3,"x":3.6,"y":52},{"s":3,"x":3.9,"y":57},{"s":3,"x":4.26,"y":61},{"s":3,"x":4.53,"y":62},{"s":3,"x":4.82,"y":64},{"s":3,"x":5.02,"y":60},{"s":3,"x":5.24,"y":61},{"s":3,"x":5.58,"y":63},{"s":3,"x":5.93,"y":65},{"s":3,"x":6.18,"y":60},{"s":3,"x":6.44,"y":57},{"s":3,"x":6.7,"y":50},{"s":3,"x":6.98,"y":46},{"s":3,"x":7.45,"y":42},{"s":3,"x":7.91,"y":39},{"s":3,"x":8.4,"y":35},{"s":3,"x":8.95,"y":31},{"s":3,"x":9.5,"y":26},{"s":3,"x":10.2,"y":22},{"s":3,"x":10.8,"y":20},{"s":3,"x":11.5,"y":18},{"s":3,"x":12.5,"y":16},{"s":3,"x":13.6,"y":14},{"s":3,"x":14.7,"y":12},{"s":3,"x":16,"y":10.5},{"s":3,"x":17.5,"y":10},{"s":3,"x":18.9,"y":9.4},{"s":3,"x":21.5,"y":7.5},{"s":3,"x":24.2,"y":6.2},{"s":3,"x":27.5,"y":5.5},{"s":3,"x":31,"y":5.1},{"s":3,"x":36,"y":4.8},{"s":3,"x":43,"y":4.6},{"s":3,"x":51,"y":4},{"s":3,"x":60,"y":3.5},{"s":3,"x":70,"y":3.8},{"s":3,"x":83,"y":4},{"s":3,"x":95,"y":5.5},{"s":3,"x":107,"y":7.3},{"s":3,"x":121,"y":7.8},{"s":3,"x":137,"y":8.4},{"s":3,"x":155,"y":8},{"s":3,"x":176,"y":7.8},{"s":3,"x":200,"y":8.6},{"s":3,"x":226,"y":9.4},{"s":3,"x":246,"y":8.8},{"s":3,"x":266,"y":8.4},{"s":3,"x":290,"y":9.8},{"s":3,"x":314,"y":10.5},{"s":3,"x":340,"y":9},{"s":3,"x":370,"y":8.4},{"s":3,"x":400,"y":7.8},{"s":3,"x":438,"y":7.3},{"s":3,"x":475,"y":6.2},{"s":3,"x":518,"y":5.1},{"s":3,"x":580,"y":4.5},{"s":3,"x":660,"y":4},{"s":3,"x":750,"y":3.5},{"s":3,"x":850,"y":3},{"s":3,"x":960,"y":2.2},{"s":3,"x":1080,"y":1.4},{"s":3,"x":1230,"y":1.1},{"s":3,"x":1380,"y":0.9},{"s":3,"x":1580,"y":0.6},{"s":3,"x":1790,"y":0.3},{"s":3,"x":2000,"y":0},{"s":3,"x":10000,"y":0},
{"s":4,"x":1,"y":250},{"s":4,"x":1.03,"y":52},{"s":4,"x":1.06,"y":3},{"s":4,"x":1.23,"y":3},{"s":4,"x":1.4,"y":2.5},{"s":4,"x":1.58,"y":2},{"s":4,"x":1.8,"y":2.5},{"s":4,"x":2.02,"y":3},{"s":4,"x":2.3,"y":2},{"s":4,"x":2.59,"y":1.4},{"s":4,"x":2.9,"y":2},{"s":4,"x":3.31,"y":3.5},{"s":4,"x":3.6,"y":4.5},{"s":4,"x":3.92,"y":6.2},{"s":4,"x":4.26,"y":8.5},{"s":4,"x":4.62,"y":11.6},{"s":4,"x":4.93,"y":15},{"s":4,"x":5.24,"y":20},{"s":4,"x":5.58,"y":24},{"s":4,"x":5.93,"y":29},{"s":4,"x":6.18,"y":35},{"s":4,"x":6.44,"y":42},{"s":4,"x":6.7,"y":48},{"s":4,"x":6.98,"y":54},{"s":4,"x":7.45,"y":58},{"s":4,"x":7.91,"y":61},{"s":4,"x":8.25,"y":57},{"s":4,"x":8.6,"y":59},{"s":4,"x":8.95,"y":56},{"s":4,"x":9.33,"y":62},{"s":4,"x":9.9,"y":60},{"s":4,"x":10.6,"y":61},{"s":4,"x":11.2,"y":57},{"s":4,"x":11.9,"y":59},{"s":4,"x":12.5,"y":62},{"s":4,"x":13,"y":56},{"s":4,"x":13.6,"y":50},{"s":4,"x":14.5,"y":45},{"s":4,"x":15.3,"y":42},{"s":4,"x":16.3,"y":38},{"s":4,"x":17.3,"y":36},{"s":4,"x":18.8,"y":31},{"s":4,"x":20.4,"y":27},{"s":4,"x":22.2,"y":23},{"s":4,"x":24.2,"y":20},{"s":4,"x":26.3,"y":19},{"s":4,"x":28.6,"y":18},{"s":4,"x":31,"y":18},{"s":4,"x":33.7,"y":17},{"s":4,"x":36.5,"y":15},{"s":4,"x":39.8,"y":14},{"s":4,"x":43,"y":12.5},{"s":4,"x":46.9,"y":11.6},{"s":4,"x":51,"y":10.5},{"s":4,"x":55.4,"y":9.4},{"s":4,"x":60,"y":8.3},{"s":4,"x":65,"y":7.3},{"s":4,"x":71,"y":6.5},{"s":4,"x":77,"y":5.7},{"s":4,"x":84,"y":5},{"s":4,"x":90.7,"y":4.6},{"s":4,"x":98,"y":5.5},{"s":4,"x":107,"y":6.2},{"s":4,"x":116,"y":7.3},{"s":4,"x":126,"y":8.4},{"s":4,"x":137,"y":9.4},{"s":4,"x":149,"y":10.5},{"s":4,"x":162,"y":10},{"s":4,"x":176,"y":10},{"s":4,"x":190,"y":9.7},{"s":4,"x":207,"y":9.4},{"s":4,"x":225,"y":10},{"s":4,"x":244,"y":10.5},{"s":4,"x":265,"y":11},{"s":4,"x":289,"y":11.2},{"s":4,"x":314,"y":11.6},{"s":4,"x":340,"y":12},{"s":4,"x":370,"y":12.6},{"s":4,"x":400,"y":12},{"s":4,"x":438,"y":11.6},{"s":4,"x":475,"y":11},{"s":4,"x":518,"y":10.5},{"s":4,"x":560,"y":10},{"s":4,"x":610,"y":9.4},{"s":4,"x":660,"y":8.5},{"s":4,"x":720,"y":7.3},{"s":4,"x":780,"y":7.8},{"s":4,"x":850,"y":8.4},{"s":4,"x":920,"y":8.6},{"s":4,"x":1000,"y":8.9},{"s":4,"x":1090,"y":8.6},{"s":4,"x":1180,"y":8.4},{"s":4,"x":1280,"y":7.2},{"s":4,"x":1390,"y":6.2},{"s":4,"x":1510,"y":5.6},{"s":4,"x":1640,"y":5.1},{"s":4,"x":1780,"y":4.8},{"s":4,"x":1940,"y":4.6},{"s":4,"x":2200,"y":3.8},{"s":4,"x":2500,"y":3},{"s":4,"x":2800,"y":2.4},{"s":4,"x":3200,"y":1.9},{"s":4,"x":3600,"y":1.3},{"s":4,"x":4100,"y":0.9},{"s":4,"x":4600,"y":0.6},{"s":4,"x":5250,"y":0.3},{"s":4,"x":6000,"y":0},{"s":4,"x":10000,"y":0}
],
"p5":[
{"s":1,"x":1,"y":3},{"s":1,"x":1.16,"y":5},{"s":1,"x":1.3,"y":7},{"s":1,"x":1.48,"y":9},{"s":1,"x":1.6,"y":13},{"s":1,"x":1.75,"y":18},{"s":1,"x":1.9,"y":24},{"s":1,"x":2.07,"y":30},{"s":1,"x":2.25,"y":37},{"s":1,"x":2.44,"y":43},{"s":1,"x":2.65,"y":50},{"s":1,"x":2.88,"y":57},{"s":1,"x":3.12,"y":56},{"s":1,"x":3.39,"y":58},{"s":1,"x":3.6,"y":61},{"s":1,"x":3.86,"y":65},{"s":1,"x":4.1,"y":58},{"s":1,"x":4.36,"y":54},{"s":1,"x":4.55,"y":50},{"s":1,"x":4.74,"y":46},{"s":1,"x":5.14,"y":50},{"s":1,"x":5.45,"y":44},{"s":1,"x":5.83,"y":39},{"s":1,"x":6.2,"y":32},{"s":1,"x":6.6,"y":26},{"s":1,"x":7.2,"y":21},{"s":1,"x":7.8,"y":18},{"s":1,"x":8.5,"y":16},{"s":1,"x":9.2,"y":14},{"s":1,"x":10,"y":12},{"s":1,"x":10.8,"y":10},{"s":1,"x":11.8,"y":8.5},{"s":1,"x":12.8,"y":7},{"s":1,"x":14.5,"y":5},{"s":1,"x":16.4,"y":3.7},{"s":1,"x":18.5,"y":2.5},{"s":1,"x":21,"y":1.6},{"s":1,"x":25,"y":1.2},{"s":1,"x":29,"y":1},{"s":1,"x":38,"y":0.7},{"s":1,"x":48,"y":0.5},{"s":1,"x":70,"y":0.3},{"s":1,"x":93,"y":0.2},{"s":1,"x":110,"y":0},{"s":1,"x":10000,"y":0},
{"s":2,"x":1,"y":3},{"s":2,"x":1.16,"y":4},{"s":2,"x":1.38,"y":5},{"s":2,"x":1.62,"y":7},{"s":2,"x":1.76,"y":11},{"s":2,"x":1.9,"y":15},{"s":2,"x":2.07,"y":20},{"s":2,"x":2.25,"y":26},{"s":2,"x":2.44,"y":32},{"s":2,"x":2.65,"y":39},{"s":2,"x":2.82,"y":46},{"s":2,"x":3,"y":53},{"s":2,"x":3.14,"y":58},{"s":2,"x":3.27,"y":66},{"s":2,"x":3.4,"y":60},{"s":2,"x":3.55,"y":58},{"s":2,"x":3.7,"y":60},{"s":2,"x":3.86,"y":62},{"s":2,"x":4.1,"y":57},{"s":2,"x":4.36,"y":52},{"s":2,"x":4.65,"y":48},{"s":2,"x":4.93,"y":45},{"s":2,"x":5.25,"y":41},{"s":2,"x":5.58,"y":37},{"s":2,"x":5.93,"y":35},{"s":2,"x":6.3,"y":33},{"s":2,"x":6.7,"y":29},{"s":2,"x":7.15,"y":26},{"s":2,"x":7.6,"y":23},{"s":2,"x":8.07,"y":20},{"s":2,"x":8.6,"y":18},{"s":2,"x":9.2,"y":17.6},{"s":2,"x":10,"y":15},{"s":2,"x":10.8,"y":12.3},{"s":2,"x":11.8,"y":11},{"s":2,"x":12.8,"y":10.2},{"s":2,"x":14.5,"y":9},{"s":2,"x":16.4,"y":8},{"s":2,"x":18.5,"y":7.5},{"s":2,"x":21,"y":7},{"s":2,"x":25,"y":6.5},{"s":2,"x":29,"y":5.9},{"s":2,"x":34,"y":6.5},{"s":2,"x":41,"y":7},{"s":2,"x":46,"y":5.5},{"s":2,"x":52,"y":4.8},{"s":2,"x":59,"y":4.5},{"s":2,"x":66,"y":4.3},{"s":2,"x":75,"y":4},{"s":2,"x":84,"y":3.7},{"s":2,"x":95,"y":2.8},{"s":2,"x":107,"y":2.1},{"s":2,"x":127,"y":1.5},{"s":2,"x":150,"y":1},{"s":2,"x":180,"y":0.8},{"s":2,"x":211,"y":0.7},{"s":2,"x":250,"y":0.6},{"s":2,"x":300,"y":0.5},{"s":2,"x":350,"y":0},{"s":2,"x":10000,"y":0},
{"s":3,"x":1,"y":8},{"s":3,"x":1.11,"y":5},{"s":3,"x":1.28,"y":4},{"s":3,"x":1.48,"y":3.7},{"s":3,"x":1.68,"y":5},{"s":3,"x":1.9,"y":7},{"s":3,"x":2.07,"y":9},{"s":3,"x":2.25,"y":12.3},{"s":3,"x":2.45,"y":19},{"s":3,"x":2.65,"y":26},{"s":3,"x":2.88,"y":33},{"s":3,"x":3.13,"y":39},{"s":3,"x":3.33,"y":43},{"s":3,"x":3.55,"y":45.5},{"s":3,"x":3.77,"y":47},{"s":3,"x":4,"y":50},{"s":3,"x":4.25,"y":55},{"s":3,"x":4.53,"y":60},{"s":3,"x":4.74,"y":69},{"s":3,"x":4.93,"y":65},{"s":3,"x":5.14,"y":62},{"s":3,"x":5.35,"y":57},{"s":3,"x":5.58,"y":52},{"s":3,"x":5.93,"y":49},{"s":3,"x":6.3,"y":48},{"s":3,"x":6.7,"y":50},{"s":3,"x":7.15,"y":53},{"s":3,"x":7.48,"y":55},{"s":3,"x":7.8,"y":56},{"s":3,"x":8.15,"y":53},{"s":3,"x":8.5,"y":50},{"s":3,"x":8.85,"y":46},{"s":3,"x":9.2,"y":43},{"s":3,"x":9.8,"y":40},{"s":3,"x":10.4,"y":37},{"s":3,"x":11.1,"y":33},{"s":3,"x":11.8,"y":30},{"s":3,"x":12.5,"y":27},{"s":3,"x":13.3,"y":24},{"s":3,"x":14.1,"y":21},{"s":3,"x":15,"y":18},{"s":3,"x":16.3,"y":15},{"s":3,"x":17.8,"y":13.4},{"s":3,"x":19.3,"y":12},{"s":3,"x":21,"y":10.2},{"s":3,"x":22.8,"y":9.5},{"s":3,"x":24.8,"y":9},{"s":3,"x":27,"y":9.5},{"s":3,"x":29.2,"y":10.2},{"s":3,"x":31.7,"y":11},{"s":3,"x":34.4,"y":12.3},{"s":3,"x":37.4,"y":14},{"s":3,"x":40.6,"y":15.5},{"s":3,"x":43.3,"y":18},{"s":3,"x":46,"y":20.5},{"s":3,"x":49,"y":16},{"s":3,"x":52,"y":14.4},{"s":3,"x":56.5,"y":12.5},{"s":3,"x":61.6,"y":11.2},{"s":3,"x":66.8,"y":10},{"s":3,"x":72.6,"y":9},{"s":3,"x":79,"y":8},{"s":3,"x":85.7,"y":7},{"s":3,"x":93,"y":6.5},{"s":3,"x":101,"y":5.9},{"s":3,"x":110,"y":6.5},{"s":3,"x":119,"y":7},{"s":3,"x":129,"y":5.5},{"s":3,"x":141,"y":4.8},{"s":3,"x":160,"y":4.5},{"s":3,"x":180,"y":4.3},{"s":3,"x":205,"y":3.7},{"s":3,"x":232,"y":3.2},{"s":3,"x":262,"y":2.6},{"s":3,"x":296,"y":2.1},{"s":3,"x":338,"y":1.8},{"s":3,"x":380,"y":1.6},{"s":3,"x":430,"y":1.3},{"s":3,"x":485,"y":1.1},{"s":3,"x":550,"y":0.9},{"s":3,"x":620,"y":0.7},{"s":3,"x":700,"y":0.6},{"s":3,"x":800,"y":0.5},{"s":3,"x":900,"y":0},{"s":3,"x":10000,"y":0},
{"s":4,"x":1,"y":250},{"s":4,"x":1.03,"y":53},{"s":4,"x":1.06,"y":4},{"s":4,"x":1.16,"y":3.7},{"s":4,"x":1.38,"y":3},{"s":4,"x":1.62,"y":2.7},{"s":4,"x":1.82,"y":3.2},{"s":4,"x":2.07,"y":3.7},{"s":4,"x":2.35,"y":4.5},{"s":4,"x":2.65,"y":5.9},{"s":4,"x":2.88,"y":6.5},{"s":4,"x":3.13,"y":7},{"s":4,"x":3.35,"y":9},{"s":4,"x":3.55,"y":12.3},{"s":4,"x":3.77,"y":17},{"s":4,"x":4,"y":22},{"s":4,"x":4.25,"y":26},{"s":4,"x":4.53,"y":30.5},{"s":4,"x":4.83,"y":35},{"s":4,"x":5.14,"y":39},{"s":4,"x":5.45,"y":43},{"s":4,"x":5.83,"y":47.6},{"s":4,"x":6.2,"y":55},{"s":4,"x":6.6,"y":62.6},{"s":4,"x":7,"y":66},{"s":4,"x":7.48,"y":70},{"s":4,"x":7.75,"y":67},{"s":4,"x":8.07,"y":63.6},{"s":4,"x":8.4,"y":62},{"s":4,"x":8.8,"y":60.4},{"s":4,"x":9.4,"y":57},{"s":4,"x":10,"y":55},{"s":4,"x":10.6,"y":53},{"s":4,"x":11.3,"y":51.9},{"s":4,"x":12,"y":48},{"s":4,"x":12.8,"y":45.5},{"s":4,"x":13.6,"y":43},{"s":4,"x":14.4,"y":41},{"s":4,"x":15.4,"y":39},{"s":4,"x":16.4,"y":36.9},{"s":4,"x":17.8,"y":32},{"s":4,"x":19.4,"y":28.3},{"s":4,"x":21,"y":25},{"s":4,"x":22.8,"y":22},{"s":4,"x":24.8,"y":20},{"s":4,"x":27,"y":17.6},{"s":4,"x":29.2,"y":16},{"s":4,"x":31.6,"y":14.4},{"s":4,"x":34.4,"y":13},{"s":4,"x":37.5,"y":12.3},{"s":4,"x":40.6,"y":11.5},{"s":4,"x":44,"y":11.2},{"s":4,"x":48,"y":12},{"s":4,"x":52,"y":12.3},{"s":4,"x":56.5,"y":10.5},{"s":4,"x":61.6,"y":9},{"s":4,"x":66.8,"y":8.5},{"s":4,"x":72.6,"y":8},{"s":4,"x":79,"y":8.5},{"s":4,"x":85.7,"y":9},{"s":4,"x":93,"y":8.5},{"s":4,"x":101,"y":8},{"s":4,"x":110,"y":9.5},{"s":4,"x":119,"y":11.2},{"s":4,"x":130,"y":12.5},{"s":4,"x":141,"y":13.4},{"s":4,"x":154,"y":14},{"s":4,"x":167,"y":14.4},{"s":4,"x":182,"y":14},{"s":4,"x":197,"y":13.4},{"s":4,"x":214,"y":12.8},{"s":4,"x":232,"y":12.3},{"s":4,"x":252,"y":11.3},{"s":4,"x":274,"y":10.2},{"s":4,"x":298,"y":9.5},{"s":4,"x":323,"y":9},{"s":4,"x":350,"y":8.8},{"s":4,"x":380,"y":8.6},{"s":4,"x":415,"y":8.8},{"s":4,"x":450,"y":9},{"s":4,"x":490,"y":8},{"s":4,"x":530,"y":7},{"s":4,"x":575,"y":6},{"s":4,"x":625,"y":4.8},{"s":4,"x":680,"y":4},{"s":4,"x":740,"y":3.2},{"s":4,"x":800,"y":3},{"s":4,"x":870,"y":2.7},{"s":4,"x":990,"y":2.4},{"s":4,"x":1120,"y":2.1},{"s":4,"x":1270,"y":1.8},{"s":4,"x":1420,"y":1.6},{"s":4,"x":1620,"y":1.3},{"s":4,"x":1830,"y":1.1},{"s":4,"x":2070,"y":0.9},{"s":4,"x":2350,"y":0.7},{"s":4,"x":2700,"y":0.5},{"s":4,"x":3100,"y":0.3},{"s":4,"x":3600,"y":0.3},{"s":4,"x":4000,"y":0.5},{"s":4,"x":4200,"y":1},{"s":4,"x":4500,"y":0.5},{"s":4,"x":5300,"y":0.3},{"s":4,"x":6000,"y":0},{"s":4,"x":10000,"y":0}
]
},
"spacing":26,
"resolve":{"scale":{"color":"independent"},"legend":{"color":"independent"}},
"vconcat":[
{"hconcat":[
{"width":348,"height":310,"data":{"name":"p1"},"resolve":{"axis":{"x":"independent","y":"independent"}},
 "layer":[
 {"mark":{"type":"line","interpolate":"step","strokeWidth":2.2,"clip":true},
  "encoding":{
   "x":{"field":"x","type":"quantitative","scale":{"type":"log","domain":[1,10000]},"axis":{"orient":"bottom","values":[1,10,100,1000,10000],"labelExpr":"datum.value==1?'10⁰':datum.value==10?'10¹':datum.value==100?'10²':datum.value==1000?'10³':'10⁴'","tickSize":9,"labelFontSize":17,"labelPadding":6,"labelFlush":false,"labelOverlap":false,"title":"FL1-H","titleFontSize":17,"titlePadding":4}},
   "y":{"field":"y","type":"quantitative","scale":{"domain":[0,200]},"axis":{"orient":"left","values":[0,40,80,120,160,200],"labelAngle":270,"labelAlign":"center","labelBaseline":"alphabetic","tickSize":9,"labelFontSize":23,"labelPadding":18,"title":"Counts","titleFontSize":23,"titlePadding":6}},
   "color":{"field":"s","type":"nominal","scale":{"domain":[1,2,3,4],"range":["#7028c8","#ee1c1c","#1a1ae6","#2ee82e"]},"legend":{"orient":"none","legendX":67,"legendY":4,"labelExpr":"['Non treated','Zero cycle ssDNA pools','200 pmol AraHH001','1000 pmol AraHH001'][datum.value-1]"}}}},
 {"mark":{"type":"line","opacity":0,"clip":true},
  "encoding":{
   "x":{"field":"x","type":"quantitative","axis":{"orient":"bottom","values":[2,3,4,5,6,7,8,9,20,30,40,50,60,70,80,90,200,300,400,500,600,700,800,900,2000,3000,4000,5000,6000,7000,8000,9000],"labels":false,"tickSize":5,"domain":false,"title":null}},
   "y":{"field":"y","type":"quantitative","axis":{"orient":"left","values":[0,8,16,24,32,40,48,56,64,72,80,88,96,104,112,120,128,136,144,152,160,168,176,184,192,200],"labels":false,"tickSize":5,"domain":false,"title":null}}}}
 ]},
{"width":370,"height":310,"data":{"name":"p2"},"resolve":{"axis":{"x":"independent","y":"independent"}},
 "layer":[
 {"mark":{"type":"line","interpolate":"step","strokeWidth":2.2,"clip":true},
  "encoding":{
   "x":{"field":"x","type":"quantitative","scale":{"type":"log","domain":[1,10000]},"axis":{"orient":"bottom","values":[1,10,100,1000,10000],"labelExpr":"datum.value==1?'10⁰':datum.value==10?'10¹':datum.value==100?'10²':datum.value==1000?'10³':'10⁴'","tickSize":9,"labelFontSize":17,"labelPadding":6,"labelFlush":false,"labelOverlap":false,"title":"FL1-H","titleFontSize":17,"titlePadding":4}},
   "y":{"field":"y","type":"quantitative","scale":{"domain":[0,150]},"axis":{"orient":"left","values":[0,30,60,90,120,150],"labelAngle":270,"labelAlign":"center","labelBaseline":"alphabetic","tickSize":9,"labelFontSize":23,"labelPadding":12,"title":"Counts","titleFontSize":23,"titlePadding":10}},
   "color":{"field":"s","type":"nominal","scale":{"domain":[1,2,3,4],"range":["#2ee82e","#1a1ae6","#ee1c1c","#ff9a1f"]},"legend":{"orient":"none","legendX":69,"legendY":3,"labelExpr":"['Non treated','Zero cycle ssDNA pools','200 pmol AraHH004','1000 pmol  AraHH004'][datum.value-1]"}}}},
 {"mark":{"type":"line","opacity":0,"clip":true},
  "encoding":{
   "x":{"field":"x","type":"quantitative","axis":{"orient":"bottom","values":[2,3,4,5,6,7,8,9,20,30,40,50,60,70,80,90,200,300,400,500,600,700,800,900,2000,3000,4000,5000,6000,7000,8000,9000],"labels":false,"tickSize":5,"domain":false,"title":null}},
   "y":{"field":"y","type":"quantitative","axis":{"orient":"left","values":[0,6,12,18,24,30,36,42,48,54,60,66,72,78,84,90,96,102,108,114,120,126,132,138,144,150],"labels":false,"tickSize":5,"domain":false,"title":null}}}}
 ]},
{"width":367,"height":310,"data":{"name":"p3"},"resolve":{"axis":{"x":"independent","y":"independent"}},
 "layer":[
 {"mark":{"type":"line","interpolate":"step","strokeWidth":2.2,"clip":true},
  "encoding":{
   "x":{"field":"x","type":"quantitative","scale":{"type":"log","domain":[1,10000]},"axis":{"orient":"bottom","values":[1,10,100,1000,10000],"labelExpr":"datum.value==1?'10⁰':datum.value==10?'10¹':datum.value==100?'10²':datum.value==1000?'10³':'10⁴'","tickSize":9,"labelFontSize":17,"labelPadding":6,"labelFlush":false,"labelOverlap":false,"title":"FL1-H","titleFontSize":17,"titlePadding":4}},
   "y":{"field":"y","type":"quantitative","scale":{"domain":[0,100]},"axis":{"orient":"left","values":[0,20,40,60,80,100],"labelAngle":270,"labelAlign":"center","labelBaseline":"alphabetic","tickSize":9,"labelFontSize":23,"labelPadding":9,"title":"Counts","titleFontSize":23,"titlePadding":0}},
   "color":{"field":"s","type":"nominal","scale":{"domain":[1,2,3,4],"range":["#1a1ae6","#f0f000","#ee1c1c","#2ee82e"]},"legend":{"orient":"none","legendX":82,"legendY":4,"labelExpr":"['Non treated','Zero cycle ssDNA pools','200 pmol AraHH008','1000 pmol AraHH008'][datum.value-1]"}}}},
 {"mark":{"type":"line","opacity":0,"clip":true},
  "encoding":{
   "x":{"field":"x","type":"quantitative","axis":{"orient":"bottom","values":[2,3,4,5,6,7,8,9,20,30,40,50,60,70,80,90,200,300,400,500,600,700,800,900,2000,3000,4000,5000,6000,7000,8000,9000],"labels":false,"tickSize":5,"domain":false,"title":null}},
   "y":{"field":"y","type":"quantitative","axis":{"orient":"left","values":[0,4,8,12,16,20,24,28,32,36,40,44,48,52,56,60,64,68,72,76,80,84,88,92,96,100],"labels":false,"tickSize":5,"domain":false,"title":null}}}}
 ]}
],"spacing":73,"bounds":"flush","resolve":{"scale":{"color":"independent"},"legend":{"color":"independent"}}},
{"hconcat":[
{"width":359,"height":311,"data":{"name":"p4"},"resolve":{"axis":{"x":"independent","y":"independent"}},
 "layer":[
 {"mark":{"type":"line","interpolate":"step","strokeWidth":2.2,"clip":true},
  "encoding":{
   "x":{"field":"x","type":"quantitative","scale":{"type":"log","domain":[1,10000]},"axis":{"orient":"bottom","values":[1,10,100,1000,10000],"labelExpr":"datum.value==1?'10⁰':datum.value==10?'10¹':datum.value==100?'10²':datum.value==1000?'10³':'10⁴'","tickSize":9,"labelFontSize":17,"labelPadding":6,"labelFlush":false,"labelOverlap":false,"title":"FL1-H","titleFontSize":17,"titlePadding":4}},
   "y":{"field":"y","type":"quantitative","scale":{"domain":[0,100]},"axis":{"orient":"left","values":[0,20,40,60,80,100],"labelAngle":270,"labelAlign":"center","labelBaseline":"alphabetic","tickSize":9,"labelFontSize":23,"labelPadding":16,"title":"Counts","titleFontSize":23,"titlePadding":2}},
   "color":{"field":"s","type":"nominal","scale":{"domain":[1,2,3,4],"range":["#1a1ae6","#f0f000","#ff2d95","#6a1fd0"]},"legend":{"orient":"none","legendX":76,"legendY":6,"labelExpr":"['Non treated','Zero cycle ssDNA pools','200 pmol AraHH009','1000 pmol AraHH009'][datum.value-1]"}}}},
 {"mark":{"type":"line","opacity":0,"clip":true},
  "encoding":{
   "x":{"field":"x","type":"quantitative","axis":{"orient":"bottom","values":[2,3,4,5,6,7,8,9,20,30,40,50,60,70,80,90,200,300,400,500,600,700,800,900,2000,3000,4000,5000,6000,7000,8000,9000],"labels":false,"tickSize":5,"domain":false,"title":null}},
   "y":{"field":"y","type":"quantitative","axis":{"orient":"left","values":[0,4,8,12,16,20,24,28,32,36,40,44,48,52,56,60,64,68,72,76,80,84,88,92,96,100],"labels":false,"tickSize":5,"domain":false,"title":null}}}}
 ]},
{"width":371,"height":311,"data":{"name":"p5"},"resolve":{"axis":{"x":"independent","y":"independent"}},
 "layer":[
 {"mark":{"type":"line","interpolate":"step","strokeWidth":2.2,"clip":true},
  "encoding":{
   "x":{"field":"x","type":"quantitative","scale":{"type":"log","domain":[1,10000]},"axis":{"orient":"bottom","values":[1,10,100,1000,10000],"labelExpr":"datum.value==1?'10⁰':datum.value==10?'10¹':datum.value==100?'10²':datum.value==1000?'10³':'10⁴'","tickSize":9,"labelFontSize":17,"labelPadding":6,"labelFlush":false,"labelOverlap":false,"title":"FL1-H","titleFontSize":17,"titlePadding":4}},
   "y":{"field":"y","type":"quantitative","scale":{"domain":[0,100]},"axis":{"orient":"left","values":[0,20,40,60,80,100],"labelAngle":270,"labelAlign":"center","labelBaseline":"alphabetic","tickSize":9,"labelFontSize":23,"labelPadding":12,"title":"Counts","titleFontSize":23,"titlePadding":-2}},
   "color":{"field":"s","type":"nominal","scale":{"domain":[1,2,3,4],"range":["#1a1ae6","#f0f000","#2d6a2d","#ee1c1c"]},"legend":{"orient":"none","legendX":83,"legendY":1,"labelExpr":"['Non treated','Zero cycle ssDNA pools','200 pmol AraHH022','1000 pmol AraHH022'][datum.value-1]"}}}},
 {"mark":{"type":"line","opacity":0,"clip":true},
  "encoding":{
   "x":{"field":"x","type":"quantitative","axis":{"orient":"bottom","values":[2,3,4,5,6,7,8,9,20,30,40,50,60,70,80,90,200,300,400,500,600,700,800,900,2000,3000,4000,5000,6000,7000,8000,9000],"labels":false,"tickSize":5,"domain":false,"title":null}},
   "y":{"field":"y","type":"quantitative","axis":{"orient":"left","values":[0,4,8,12,16,20,24,28,32,36,40,44,48,52,56,60,64,68,72,76,80,84,88,92,96,100],"labels":false,"tickSize":5,"domain":false,"title":null}}}}
 ]}
],"spacing":82,"bounds":"flush","resolve":{"scale":{"color":"independent"},"legend":{"color":"independent"}}}
]
}
